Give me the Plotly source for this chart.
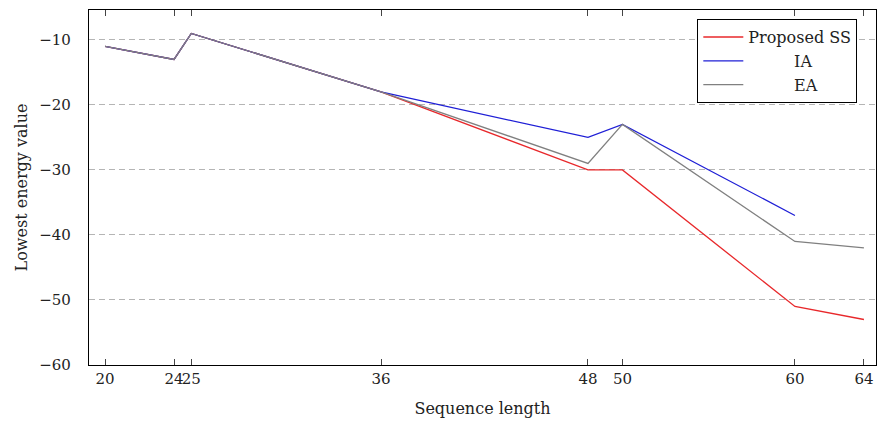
import plotly.graph_objects as go

x_ticks = [20, 24, 25, 36, 48, 50, 60, 64]
x_ss = [20, 24, 25, 36, 48, 50, 60, 64]
y_ss = [-11, -13, -9, -18, -30, -30, -51, -53]
x_ia = [20, 24, 25, 36, 48, 50, 60]
y_ia = [-11, -13, -9, -18, -25, -23, -37]
x_ea = [20, 24, 25, 36, 48, 50, 60, 64]
y_ea = [-11, -13, -9, -18, -29, -23, -41, -42]
names = ["Proposed SS", "\u00a0\u00a0\u00a0\u00a0\u00a0\u00a0\u00a0\u00a0\u00a0IA",
         "\u00a0\u00a0\u00a0\u00a0\u00a0\u00a0\u00a0\u00a0\u00a0EA"]

font = "DejaVu Serif, Liberation Serif, serif"

fig = go.Figure()
fig.add_trace(go.Scatter(x=x_ss, y=y_ss, mode="lines", name=names[0],
                         line=dict(color="#e8282b", width=1.3)))
fig.add_trace(go.Scatter(x=x_ia, y=y_ia, mode="lines", name=names[1],
                         line=dict(color="#1f1fd6", width=1.3)))
fig.add_trace(go.Scatter(x=x_ea, y=y_ea, mode="lines", name=names[2],
                         line=dict(color="#808080", width=1.3)))

fig.update_layout(
    width=878, height=422,
    margin=dict(l=89, r=2, t=10, b=57),
    plot_bgcolor="white", paper_bgcolor="white",
    font=dict(family=font, size=15, color="#222"),
    showlegend=True,
    legend=dict(x=0.976, y=0.975, xanchor="right", yanchor="top",
                bordercolor="black", borderwidth=1.2, bgcolor="white",
                font=dict(size=16), tracegroupgap=0, itemwidth=40),
    xaxis=dict(range=[19.07, 64.7], tickvals=x_ticks,
               ticktext=[str(v) for v in x_ticks], tickangle=0,
               showgrid=False, zeroline=False,
               showline=True, linecolor="black", linewidth=1.2, mirror="ticks",
               ticks="inside", ticklen=6, tickcolor="#444",
               title=dict(text="Sequence length", standoff=15, font=dict(size=16))),
    yaxis=dict(range=[-60, -5.4], tickvals=[-60, -50, -40, -30, -20, -10],
               showgrid=True, gridcolor="#b5b5b5", griddash="6px,4px", gridwidth=1,
               zeroline=False,
               showline=True, linecolor="black", linewidth=1.2, mirror=True,
               ticks="", ticklabelstandoff=14,
               title=dict(text="Lowest energy value", standoff=7, font=dict(size=16))),
)

fig.write_html("out.html", config={"displayModeBar": False},
               post_script="document.body.style.margin='0';")
